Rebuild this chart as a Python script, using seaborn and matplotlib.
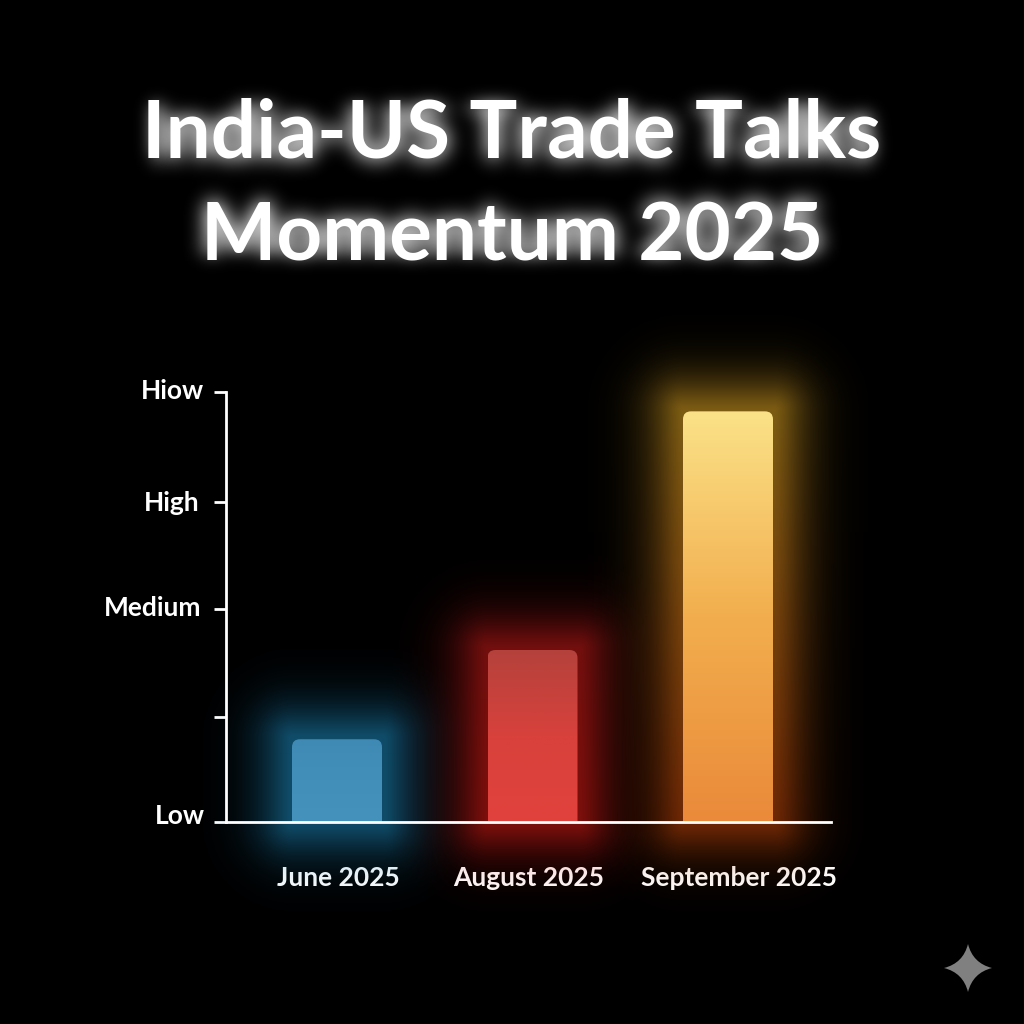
import numpy as np
import pandas as pd
import matplotlib
matplotlib.use("Agg")
import matplotlib.pyplot as plt
from matplotlib.colors import to_rgb
from matplotlib.patches import FancyBboxPatch, PathPatch
from matplotlib.path import Path
from matplotlib.transforms import IdentityTransform, ScaledTranslation
import seaborn as sns

title = "India-US Trade Talks\nMomentum 2025"
months = ["June 2025", "August 2025", "September 2025"]
momentum = [0.77, 1.60, 3.82]
level_ticks = [0, 0.98, 1.98, 2.98, 4]
level_labels = ["Low", "", "Medium", "High", "Hiow"]

# top / middle / bottom colours for each bar, top / bottom for its glow
bar_top = ["#3f8ab4", "#b5423c", "#fbe288"]
bar_mid = ["#4290ba", "#d8413c", "#f2ae4e"]
bar_bottom = ["#4592bd", "#e2423c", "#ea8a3a"]
glow_top = ["#1a7fb0", "#c01a18", "#d09a20"]
glow_bottom = ["#1a7fb0", "#d01a14", "#b84208"]


def blur(image, dpi, sigma=10, pad=40, gain=1.0):
    # gaussian blur for the title glow, one axis at a time
    img = np.pad(image, ((pad, pad), (pad, pad), (0, 0)))
    x = np.arange(-3 * sigma, 3 * sigma + 1)
    kernel = np.exp(-(x**2) / (2 * sigma**2))
    kernel /= kernel.sum()
    for axis in (0, 1):
        img = np.apply_along_axis(np.convolve, axis, img, kernel, mode="same")
    img[..., 3] = np.clip(img[..., 3] * gain, 0, 1)
    return img, -pad, -pad


sns.set_theme(style="dark", rc={"axes.facecolor": "black", "figure.facecolor": "black"})
plt.rcParams["font.family"] = ["Lato", "DejaVu Sans"]
plt.rcParams["font.weight"] = "bold"

W = 1024
f = plt.figure(figsize=(10.24, 10.24), dpi=100)
ax = f.add_axes([226 / W, 1 - 822 / W, (831 - 226) / W, (822 - 392) / W])

df = pd.DataFrame({"month": months, "momentum": momentum})
sns.barplot(data=df, x="month", y="momentum", width=90 / 195.5, color="#4592bd", ax=ax, zorder=2)
xlim = (-111 / 195.5, 494 / 195.5)
ax.set_xlim(xlim)
ax.set_ylim(0, 4)

# bars become rounded gradient boxes with a soft glow behind them
inv = ax.transData.inverted()
for i, bar in enumerate(ax.patches):
    (x0, y0), (x1, y1) = ax.transData.transform(
        [(bar.get_x(), 0), (bar.get_x() + bar.get_width(), bar.get_height())]
    )
    bar.set_visible(False)

    m = 95
    xs = np.arange(x0 - m, x1 + m)
    ys = np.arange(y1 + m, y0 - m, -1)
    gx, gy = np.meshgrid(xs, ys)
    dx = np.maximum(np.abs(gx - (x0 + x1) / 2) - (x1 - x0) / 2, 0)
    dy = np.maximum(np.maximum(gy - y1, y0 - gy), 0)
    d = np.hypot(dx, dy)
    t = np.clip((y1 - gy) / (y1 - y0), 0, 1)[..., None]
    rgb = np.array(to_rgb(glow_top[i])) * (1 - t) + np.array(to_rgb(glow_bottom[i])) * t
    alpha = 0.6 * np.exp(-((d / 36) ** 1.5))
    rgba = np.dstack([rgb, alpha])
    (ex0, ey0), (ex1, ey1) = inv.transform([(xs[0], ys[-1]), (xs[-1] + 1, ys[0] + 1)])
    ax.imshow(rgba, extent=(ex0, ex1, ey0, ey1), aspect="auto", zorder=1, clip_on=False,
              interpolation="bilinear")

    box = FancyBboxPatch((x0, y0 - 20), x1 - x0, y1 - y0 + 20,
                         boxstyle="round,pad=0,rounding_size=8",
                         transform=IdentityTransform(), facecolor="none", edgecolor="none")
    ax.add_patch(box)
    ramp = np.linspace(0, 1, 256)
    stops = np.array([to_rgb(bar_top[i]), to_rgb(bar_mid[i]), to_rgb(bar_bottom[i])])
    fill = np.column_stack([np.interp(ramp, [0, 0.5, 1], stops[:, c]) for c in range(3)])
    (bx0, by0), (bx1, by1) = inv.transform([(x0, y0), (x1, y1)])
    im = ax.imshow(fill[:, None, :], extent=(bx0, bx1, by0, by1), aspect="auto", zorder=2)
    im.set_clip_path(box)

ax.set_xlim(xlim)
ax.set_ylim(0, 4)

ax.set_xlabel("")
ax.set_ylabel("")
ax.set_yticks(level_ticks)
ax.set_yticklabels(level_labels)
ax.grid(False)
for side in ["top", "right"]:
    ax.spines[side].set_visible(False)
for side in ["left", "bottom"]:
    ax.spines[side].set_color("white")
    ax.spines[side].set_linewidth(2)
    ax.spines[side].set_zorder(5)
ax.tick_params(axis="y", length=8.6, width=2, color="white", labelcolor="white",
               labelsize=19, pad=7, left=True)
ax.tick_params(axis="x", length=0, labelcolor="white", labelsize=19, pad=31.5)

# labels are not quite lined up with their ticks in the original
y_nudge = [(1, 8), (0, 0), (-3, 3), (-5, 1), (0, 3)]
for lab, (nx, ny) in zip(ax.get_yticklabels(), y_nudge):
    lab.set_transform(lab.get_transform() + ScaledTranslation(nx / 100, ny / 100, f.dpi_scale_trans))
x_nudge = [1, -4, 11]
for lab, nx in zip(ax.get_xticklabels(), x_nudge):
    lab.set_transform(lab.get_transform() + ScaledTranslation(nx / 100, 0, f.dpi_scale_trans))

title_style = dict(x=0.5, y=1 - 186 / W, va="center", ha="center", color="white",
                   fontsize=57.5, fontweight="bold", linespacing=1.47)
glow = f.text(s=title, **title_style)
glow.set_agg_filter(lambda image, dpi: blur(image, dpi, gain=1.3))
f.suptitle(title, **title_style)

# sparkle in the corner
c, r, k = 968, 24, 0.2
verts = [(0, 1), (k, k), (1, 0), (k, -k), (0, -1), (-k, -k), (-1, 0), (-k, k), (0, 1)]
codes = [Path.MOVETO] + [Path.CURVE3] * 8
star = Path([(c + r * vx, W - c + r * vy) for vx, vy in verts], codes)
f.add_artist(PathPatch(star, transform=IdentityTransform(), facecolor="#808080", edgecolor="none"))

f.savefig("out.png", dpi=100, facecolor="black")
